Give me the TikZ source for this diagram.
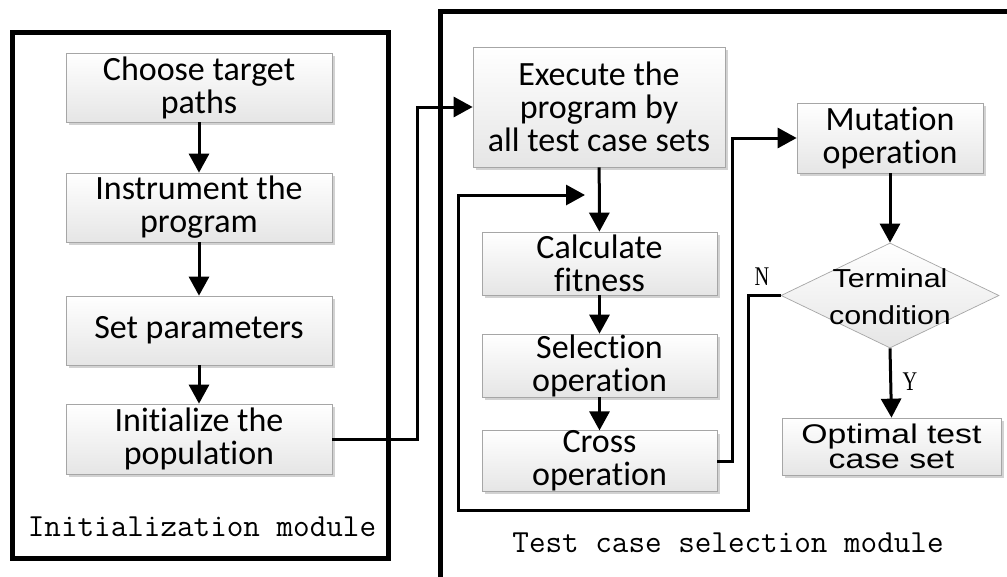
\documentclass[tikz,border=0pt]{standalone}
\usepackage{fontspec}
\newfontfamily\carlito[Ligatures=NoCommon]{Carlito}
\newfontfamily\wsansA[FakeStretch=1.17]{Liberation Sans}
\newfontfamily\wsansB[FakeStretch=1.25]{Liberation Sans}
\newfontfamily\ynfont[FakeStretch=0.75]{Liberation Serif}
\usetikzlibrary{arrows.meta,shapes.geometric,shadows}
\tikzset{
  flowbox/.style={draw=gray!70, line width=0.7pt, top color=white, bottom color=gray!20,
    drop shadow={shadow xshift=3pt, shadow yshift=-3pt, fill=gray!35, opacity=1},
    inner sep=0pt, align=center, font=\carlito\fontsize{34}{33}\selectfont},
  decision/.style={diamond, draw=gray!70, line width=0.7pt, top color=white, bottom color=gray!20,
    inner sep=0pt, minimum width=218pt, minimum height=105pt},
  module/.style={draw=black, line width=5pt},
  modlabel/.style={inner sep=0pt, font=\ttfamily\fontsize{32.2}{36}\selectfont},
  conn/.style={draw=black, line width=3pt, -{Triangle[length=19pt,width=20pt]}},
  ynlabel/.style={inner sep=0pt, font=\ynfont\fontsize{27}{27}\selectfont},
}
\begin{document}
\begin{tikzpicture}[x=1pt,y=-1pt]
\useasboundingbox (0,0) rectangle (1007,576);
\clip (0,0) rectangle (1007,576);
\fill[white] (0,0) rectangle (1007,576);

% module frames
\draw[module] (12,32) rectangle (388,558);
\draw[module] (1030,11) -- (440,11) -- (440,600);
\node[modlabel] (initlab) at (202,527) {Initialization module};
\node[modlabel] (testlab) at (728,543) {Test case selection module};

% left column
\node[flowbox, minimum width=266pt, minimum height=69pt] (choose) at (199,87.5) {Choose target\\paths};
\node[flowbox, minimum width=266pt, minimum height=69pt] (instr) at (199,207.5) {Instrument the\\program};
\node[flowbox, minimum width=266pt, minimum height=69pt] (setp) at (199,330.5) {Set parameters};
\node[flowbox, minimum width=266pt, minimum height=70pt] (init) at (199,439) {Initialize the\\population};

% middle column
\node[flowbox, minimum width=252pt, minimum height=120pt] (exec) at (599,107) {Execute the\\program by\\all test case sets};
\node[flowbox, minimum width=235pt, minimum height=63pt] (calc) at (599.5,263.5) {Calculate\\fitness};
\node[flowbox, minimum width=235pt, minimum height=63pt] (sel) at (599.5,365.5) {Selection\\operation};
\node[flowbox, minimum width=235pt, minimum height=56pt] (cross) at (599.5,461) {Cross\\operation};

% right column
\node[flowbox, minimum width=186pt, minimum height=70pt] (mut) at (890,138) {Mutation\\operation};
\node[decision] (term) at (890,295.5) {};
\node[align=center, inner sep=0pt, font=\wsansA\fontsize{26}{37}\selectfont] (termtext) at (890,297) {Terminal\\condition};
\node[flowbox, font=\wsansB\fontsize{27}{25}\selectfont, minimum width=219pt, minimum height=57pt] (opt) at (891.5,446.5) {Optimal test\\case set};

% junction coordinates
\coordinate (j1) at (417,439);
\coordinate (j2) at (732,461);
\coordinate (j3) at (748,295.5);
\coordinate (j4) at (748,510);
\coordinate (j5) at (458,510);
\coordinate (j6) at (458,195);
\coordinate (j7) at (585,195);

% connectors
\draw[conn] (choose) -- (instr);
\draw[conn] (instr) -- (setp);
\draw[conn] (setp) -- (init);
\draw[conn] (init.east) -- (j1) |- (exec.west);
\draw[conn] (exec) -- (calc);
\draw[conn] (calc) -- (sel);
\draw[conn] (sel) -- (cross);
\draw[conn] (cross.east) -- (j2) |- (mut.west);
\draw[conn] (mut) -- (term.north);
\draw[conn] (term.south) -- (opt.north);
\draw[conn] (term.west) -- (j3) -- (j4) -- (j5) -- (j6) -- (j7);

\node[ynlabel] (nlab) at (762,277) {N};
\node[ynlabel] (ylab) at (910,382) {Y};
\end{tikzpicture}
\end{document}
